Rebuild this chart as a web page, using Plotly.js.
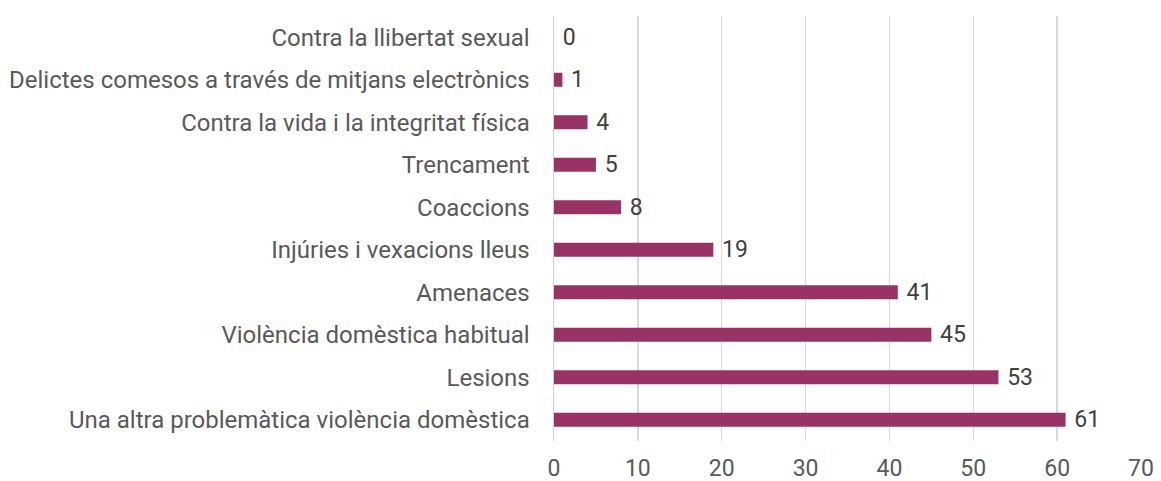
<!DOCTYPE html>
<html><head><meta charset="utf-8">
<script src="https://cdn.plot.ly/plotly-3.0.1.min.js"></script>
<style>html,body{margin:0;padding:0;background:#fff}#c{width:1161px;height:481px}</style>
</head><body><div id="c"></div>
<script>
const categories = [
  "Una altra problemàtica violència domèstica",
  "Lesions",
  "Violència domèstica habitual",
  "Amenaces",
  "Injúries i vexacions lleus",
  "Coaccions",
  "Trencament",
  "Contra la vida i la integritat física",
  "Delictes comesos a través de mitjans electrònics",
  "Contra la llibertat sexual"
];
const values = [61, 53, 45, 41, 19, 8, 5, 4, 1, 0];
const xTicks = [0, 10, 20, 30, 40, 50, 60, 70];

Plotly.newPlot('c', [{
  type: 'bar', orientation: 'h',
  y: categories, x: values,
  width: 0.33,
  marker: {color: '#993366'},
  text: values.map(v => ' ' + v),
  textposition: 'outside',
  constraintext: 'none',
  textfont: {family: 'Roboto', size: 23, color: '#404040'},
  cliponaxis: false,
  hoverinfo: 'none'
}], {
  width: 1161, height: 481,
  margin: {l: 554, r: 20, t: 16, b: 40},
  paper_bgcolor: '#fff', plot_bgcolor: '#fff',
  font: {family: 'Roboto', size: 24, color: '#595959'},
  showlegend: false,
  xaxis: {
    range: [0, 70], tickvals: xTicks, ticktext: xTicks.map(String),
    showgrid: true, gridcolor: '#d9d9d9', gridwidth: 1.5,
    zeroline: false, showline: false,
    ticks: 'outside', ticklen: 6, tickcolor: 'rgba(0,0,0,0)',
    tickfont: {family: 'Roboto', size: 23, color: '#595959'}
  },
  yaxis: {
    showline: true, linecolor: '#d0d0d0', linewidth: 1.5,
    showgrid: false, zeroline: false,
    ticks: 'outside', ticklen: 18, tickcolor: 'rgba(0,0,0,0)',
    tickfont: {family: 'Roboto', size: 24, color: '#595959'}
  }
}, {staticPlot: true});
</script></body></html>
